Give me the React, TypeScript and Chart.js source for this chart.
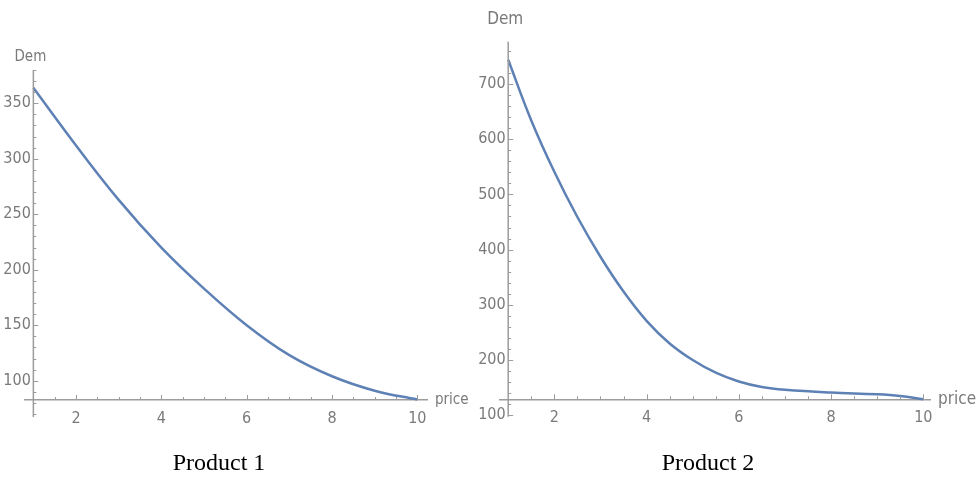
import React, { useEffect, useRef } from 'react';
import { Chart, registerables } from 'chart.js';

Chart.register(...registerables);

// ---- data ----
const pricesP1 = [1, 2, 3, 4, 5, 6, 7, 8, 9, 10];
const demandP1 = [364, 312, 263, 220, 183, 150, 123, 104, 91, 83];

const pricesP2 = [1, 1.5, 2, 2.5, 3, 3.5, 4, 4.5, 5, 5.5, 6, 6.5, 7, 8, 9, 9.5, 10];
const demandP2 = [744, 634, 541, 459, 387, 324, 271, 230, 200, 177, 161, 151, 146, 141, 138, 135, 129];

const xAxisTitle = 'price';
const yAxisTitle = 'Dem';
const captions = ['Product 1', 'Product 2'];

const AXIS_COLOR = '#9c9c9c';
const TICK_TEXT = '#7a7a7a';
const CURVE = '#5E81B5';
const TICK_FONT = "'Liberation Sans Narrow', 'DejaVu Sans Condensed', 'Arial Narrow', sans-serif";

type PanelCfg = {
  prices: number[];
  demand: number[];
  xMin: number; xMax: number;
  yMin: number; yMax: number;
  originX: number; originY: number;
  yLabelX: number;
  yMajor: number; yMinor: number;
  padding: { left: number; top: number; right: number; bottom: number };
  labelSize: number;
  demDy: number;
};

const panels: PanelCfg[] = [
  {
    prices: pricesP1, demand: demandP1,
    xMin: 0.804, xMax: 10.227, yMin: 67.3, yMax: 380,
    originX: 1, originY: 82.6, yLabelX: 0.94,
    yMajor: 50, yMinor: 10,
    padding: { left: 25, top: 70, right: 549, bottom: 70 },
    labelSize: 15, demDy: 13,
  },
  {
    prices: pricesP2, demand: demandP2,
    xMin: 0.807, xMax: 10.145, yMin: 97.3, yMax: 776.6,
    originX: 1, originY: 128.8, yLabelX: 0.945,
    yMajor: 100, yMinor: 20,
    padding: { left: 499.3, top: 41.7, right: 46, bottom: 70.3 },
    labelSize: 17, demDy: 22,
  },
];

const mmaAxes = {
  id: 'mmaAxes',
  afterDatasetsDraw(chart: any, _args: any, opts: any) {
    const { ctx, chartArea } = chart;
    const xs = chart.scales.x;
    const ys = chart.scales.y;
    const x0 = xs.getPixelForValue(opts.originX);
    const y0 = ys.getPixelForValue(opts.originY);
    ctx.save();
    ctx.strokeStyle = AXIS_COLOR;
    // vertical axis line at the origin
    ctx.lineWidth = 1.5;
    ctx.beginPath();
    ctx.moveTo(x0, ys.getPixelForValue(ys.max));
    ctx.lineTo(x0, ys.getPixelForValue(ys.min));
    ctx.stroke();
    ctx.lineWidth = 1;
    const seg = (a: number, b: number, c: number, d: number) => {
      ctx.beginPath(); ctx.moveTo(a, b); ctx.lineTo(c, d); ctx.stroke();
    };
    const isMajor = (v: number, step: number) => Math.abs(v / step - Math.round(v / step)) < 1e-6;
    // x ticks (inward, upwards)
    for (let k = Math.ceil(xs.min / 0.5); k * 0.5 <= xs.max + 1e-9; k++) {
      const v = k * 0.5;
      if (Math.abs(v - opts.originX) < 1e-9) continue;
      const px = Math.round(xs.getPixelForValue(v)) + 0.5;
      seg(px, y0, px, y0 - (isMajor(v, 2) ? 5 : 3));
    }
    // y ticks (inward, rightwards)
    for (let k = Math.ceil(ys.min / opts.yMinor); k * opts.yMinor <= ys.max + 1e-9; k++) {
      const v = k * opts.yMinor;
      const py = Math.round(ys.getPixelForValue(v)) + 0.5;
      seg(x0, py, x0 + (isMajor(v, opts.yMajor) ? 5 : 3), py);
    }
    // axis titles
    ctx.fillStyle = TICK_TEXT;
    ctx.font = `${opts.labelSize}px ${TICK_FONT}`;
    ctx.textAlign = 'center';
    ctx.textBaseline = 'middle';
    ctx.fillText(yAxisTitle, x0 - 3, chartArea.top - opts.demDy);
    ctx.textAlign = 'left';
    ctx.fillText(xAxisTitle, chartArea.right + 8, y0);
    ctx.restore();
  },
};

function Panel({ cfg }: { cfg: PanelCfg }) {
  const ref = useRef<HTMLCanvasElement>(null);
  useEffect(() => {
    const chart = new Chart(ref.current as HTMLCanvasElement, {
      type: 'line',
      data: {
        datasets: [
          {
            data: cfg.prices.map((p, i) => ({ x: p, y: cfg.demand[i] })),
            borderColor: CURVE,
            borderWidth: 2.5,
            pointRadius: 0,
            tension: 0.4,
            fill: false,
          },
        ],
      },
      options: {
        animation: false,
        responsive: false,
        events: [],
        layout: { padding: cfg.padding },
        plugins: {
          legend: { display: false },
          tooltip: { enabled: false },
          title: { display: false },
          mmaAxes: { originX: cfg.originX, originY: cfg.originY, yMinor: cfg.yMinor, yMajor: cfg.yMajor, labelSize: cfg.labelSize, demDy: cfg.demDy },
        } as any,
        scales: {
          x: {
            type: 'linear',
            min: cfg.xMin,
            max: cfg.xMax,
            position: { y: cfg.originY } as any,
            grid: { display: false, drawTicks: false },
            border: { display: true, color: AXIS_COLOR, width: 1.5 },
            ticks: {
              stepSize: 2,
              includeBounds: false,
              autoSkip: false,
              maxRotation: 0,
              padding: 9,
              color: TICK_TEXT,
              font: { family: TICK_FONT, size: 16 },
            },
          },
          y: {
            type: 'linear',
            min: cfg.yMin,
            max: cfg.yMax,
            position: { x: cfg.yLabelX } as any,
            grid: { display: false, drawTicks: false },
            border: { display: false },
            ticks: {
              stepSize: cfg.yMajor,
              includeBounds: false,
              autoSkip: false,
              color: TICK_TEXT,
              font: { family: TICK_FONT, size: 16 },
            },
          },
        },
      },
      plugins: [mmaAxes],
    });
    return () => chart.destroy();
  }, [cfg]);
  return (
    <canvas
      ref={ref}
      width={976}
      height={487}
      style={{ position: 'absolute', left: 0, top: 0, width: 976, height: 487 }}
    />
  );
}

const captionCenters = [219, 708];

export default function App() {
  return (
    <div style={{ position: 'absolute', left: 0, top: 0, width: 976, height: 487, background: '#fff', overflow: 'hidden' }}>
      {panels.map((p, i) => (
        <Panel key={i} cfg={p} />
      ))}
      {captions.map((c, i) => (
        <div
          key={c}
          style={{
            position: 'absolute',
            left: captionCenters[i] - 100,
            width: 200,
            top: 449,
            textAlign: 'center',
            fontFamily: "'Liberation Serif', 'Times New Roman', serif",
            fontSize: 24,
            lineHeight: '26px',
            color: '#000',
          }}
        >
          {c}
        </div>
      ))}
    </div>
  );
}
